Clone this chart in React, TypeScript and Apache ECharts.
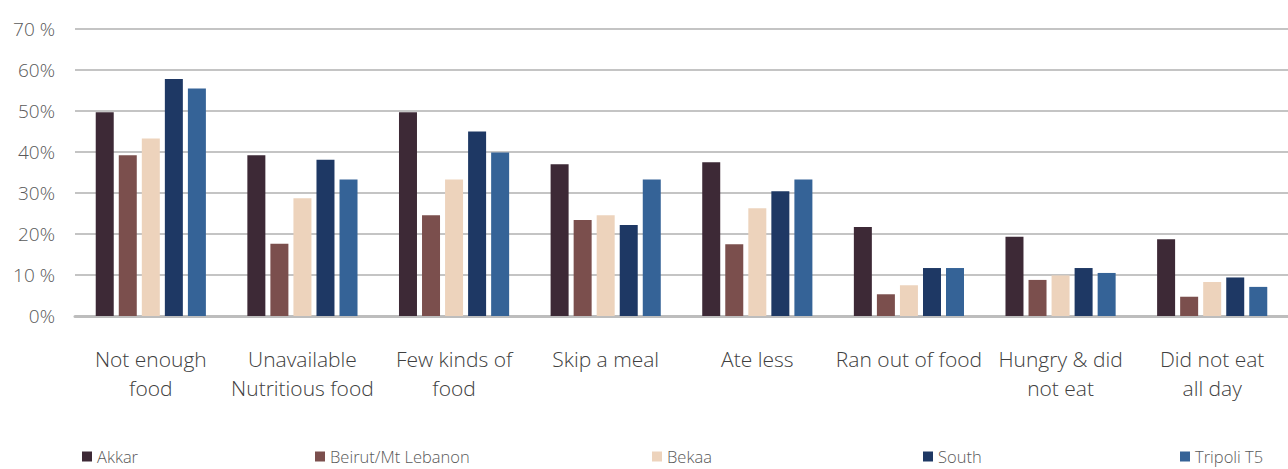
import React, { useEffect, useRef } from "react";
import * as echarts from "echarts";

const categories = [
  "Not enough\nfood",
  "Unavailable\nNutritious food",
  "Few kinds of\nfood",
  "Skip a meal",
  "Ate less",
  "Ran out of food",
  "Hungry & did\nnot eat",
  "Did not eat\nall day",
];

const seriesNames = ["Akkar", "Beirut/Mt Lebanon", "Bekaa", "South", "Tripoli T5"];

const akkar = [49.7, 39.2, 49.7, 37.0, 37.5, 21.7, 19.3, 18.7];
const beirut = [39.2, 17.6, 24.6, 23.4, 17.5, 5.3, 8.8, 4.7];
const bekaa = [43.3, 28.7, 33.3, 24.6, 26.3, 7.5, 9.9, 8.3];
const south = [57.8, 38.1, 45.0, 22.2, 30.4, 11.7, 11.7, 9.4];
const tripoli = [55.5, 33.3, 39.9, 33.3, 33.3, 11.7, 10.5, 7.1];

const yTickLabels = ["0%", "10 %", "20%", "30%", "40%", "50%", "60%", "70 %"];

const colors = ["#3d2936", "#7b4f4d", "#edd3bc", "#1e3864", "#356397"];
const legendLefts = [82, 315, 652, 923, 1180];

export default function App() {
  const ref = useRef<HTMLDivElement>(null);
  useEffect(() => {
    if (!ref.current) return;
    const chart = echarts.init(ref.current, null, { renderer: "svg" });
    const values = [akkar, beirut, bekaa, south, tripoli];
    chart.setOption({
      animation: false,
      color: colors,
      grid: { left: 75, right: 0, top: 29, bottom: 153, containLabel: false },
      legend: seriesNames.map((n, i) => ({
        data: [n],
        left: legendLefts[i],
        top: 448,
        padding: 0,
        itemWidth: 10,
        itemHeight: 10,
        itemGap: 6,
        icon: "rect",
        textStyle: {
          fontSize: 16.5,
          lineHeight: 16,
          fontWeight: 300,
          color: "#595959",
          fontFamily: "Open Sans",
          padding: [0, 0, 0, 0],
        },
      })),
      xAxis: {
        type: "category",
        data: categories,
        axisLine: { show: true, lineStyle: { color: "#bdbdbd", width: 3 } },
        axisTick: { show: false },
        axisLabel: {
          interval: 0,
          margin: 28,
          fontSize: 21,
          fontWeight: 300,
          lineHeight: 29,
          color: "#404040",
          fontFamily: "Open Sans",
          verticalAlign: "top",
        },
      },
      yAxis: {
        type: "value",
        min: 0,
        max: 70,
        interval: 10,
        axisLine: { show: false },
        axisTick: { show: false },
        splitLine: { lineStyle: { color: "#c4c4c4", width: 2 } },
        axisLabel: {
          margin: 20,
          fontSize: 19,
          fontWeight: 300,
          color: "#595959",
          fontFamily: "Open Sans",
          formatter: (v: number) => yTickLabels[Math.round(v / 10)],
        },
      },
      series: seriesNames.map((n, i) => ({
        name: n,
        type: "bar",
        data: values[i],
        barWidth: 18,
        barGap: "28%",
        itemStyle: { color: colors[i] },
      })),
    });
    return () => chart.dispose();
  }, []);
  return (
    <div
      ref={ref}
      style={{ position: "fixed", left: 0, top: 0, width: 1288, height: 469, background: "#fff" }}
    />
  );
}
